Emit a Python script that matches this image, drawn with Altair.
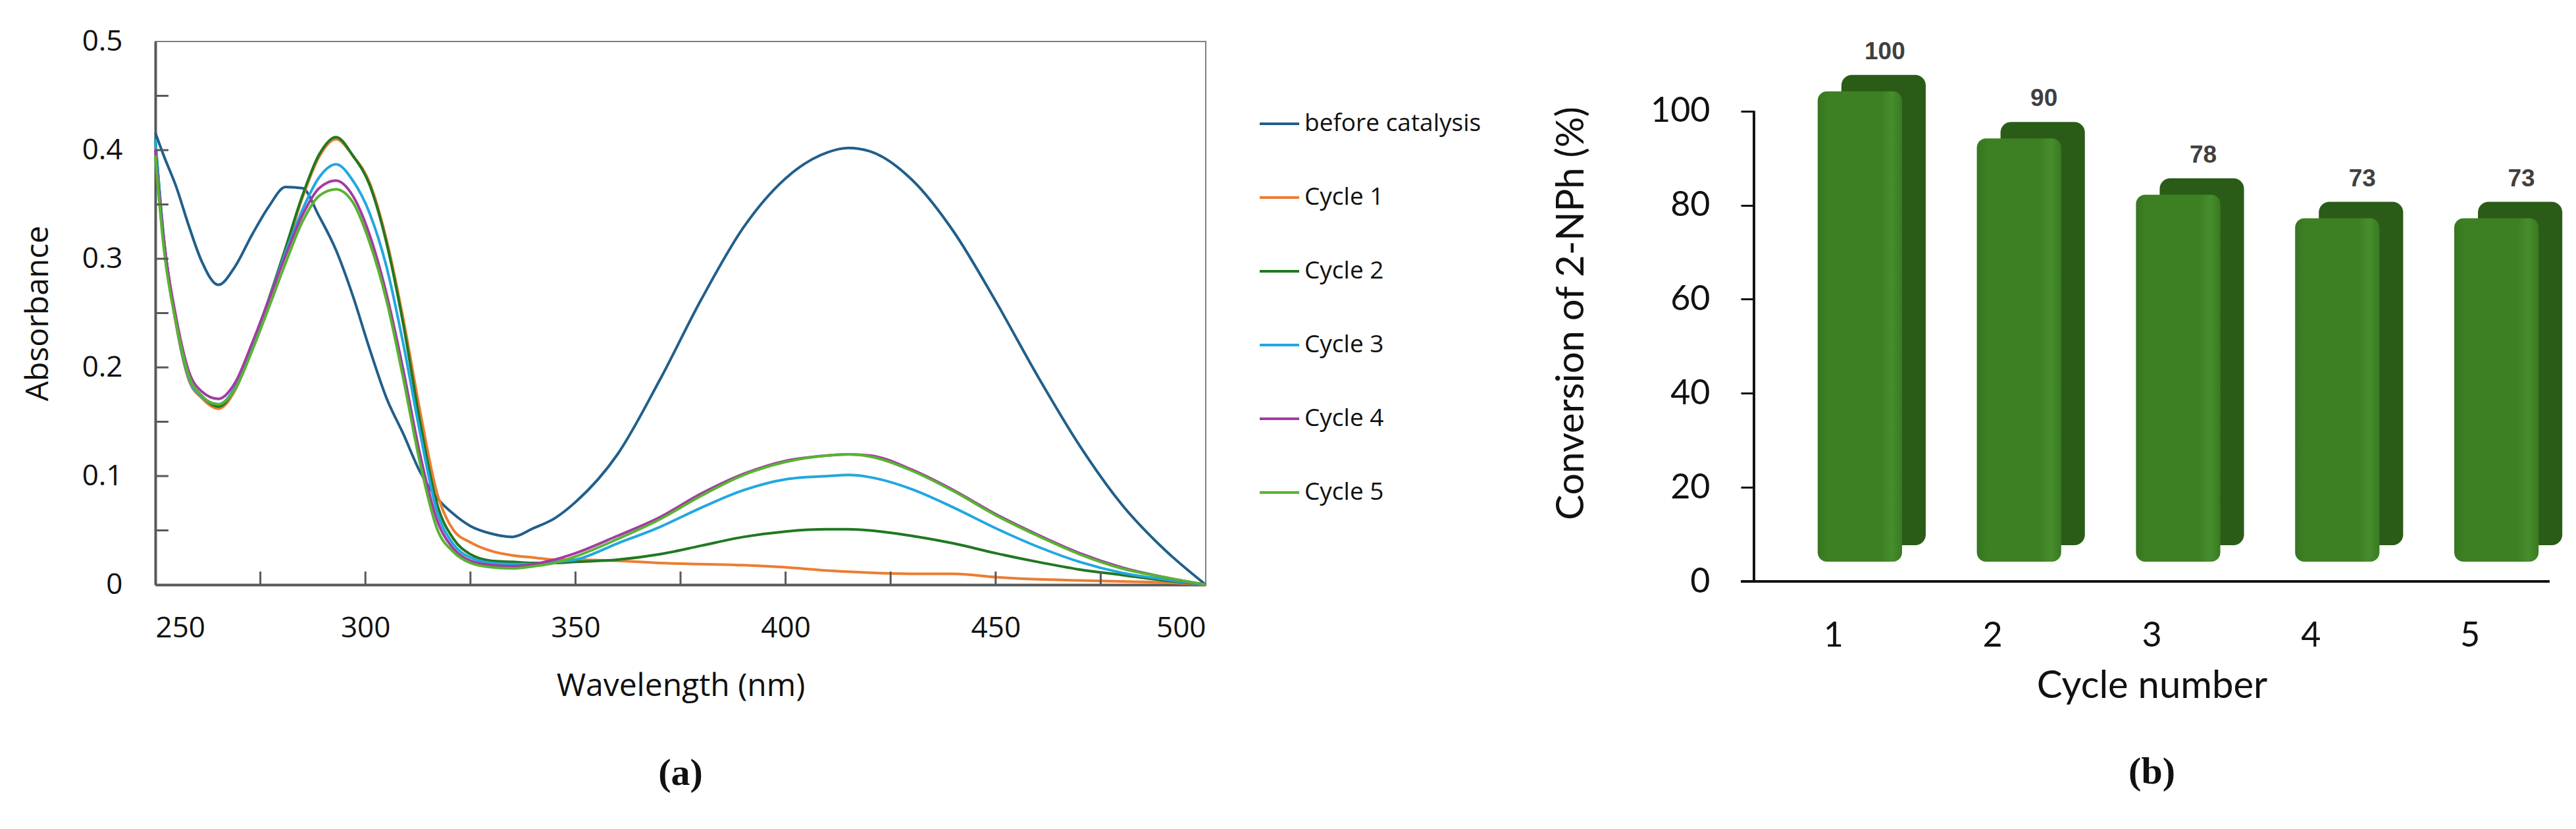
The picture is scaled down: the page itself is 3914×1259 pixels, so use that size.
import pandas as pd
import altair as alt

# ---- (a) UV-vis spectra ----
wavelength = [250, 252, 255, 258, 261, 265, 269, 273, 277, 281, 285, 289, 293, 297,
              301, 305, 309, 313, 317, 321, 325, 330, 335, 340, 345, 350, 360, 370,
              380, 390, 400, 410, 415, 420, 430, 440, 450, 460, 470, 480, 490, 500]

before_catalysis = [0.416, 0.395, 0.366, 0.330, 0.298, 0.276, 0.293, 0.322, 0.348, 0.366,
                    0.365, 0.339, 0.308, 0.266, 0.217, 0.172, 0.139, 0.104, 0.080, 0.065,
                    0.054, 0.047, 0.044, 0.052, 0.061, 0.076, 0.120, 0.188, 0.263, 0.329,
                    0.374, 0.398, 0.402, 0.399, 0.373, 0.325, 0.261, 0.192, 0.128, 0.074,
                    0.033, 0.0]
cycle_1 = [0.405, 0.315, 0.238, 0.188, 0.172, 0.162, 0.179, 0.218, 0.262, 0.308,
           0.356, 0.394, 0.410, 0.395, 0.370, 0.318, 0.245, 0.160, 0.085, 0.050,
           0.039, 0.031, 0.027, 0.025, 0.023, 0.023, 0.022, 0.020, 0.019, 0.018,
           0.016, 0.013, 0.012, 0.011, 0.010, 0.010, 0.007, 0.005, 0.004, 0.003,
           0.002, 0.0]
cycle_2 = [0.410, 0.320, 0.240, 0.190, 0.174, 0.164, 0.181, 0.220, 0.263, 0.310,
           0.358, 0.396, 0.412, 0.395, 0.368, 0.315, 0.240, 0.150, 0.075, 0.042,
           0.028, 0.022, 0.021, 0.020, 0.020, 0.021, 0.023, 0.028, 0.036, 0.044,
           0.049, 0.051, 0.051, 0.050, 0.045, 0.038, 0.029, 0.021, 0.014, 0.009,
           0.004, 0.0]
cycle_3 = [0.410, 0.318, 0.240, 0.190, 0.173, 0.166, 0.182, 0.220, 0.262, 0.306,
           0.345, 0.375, 0.387, 0.372, 0.342, 0.293, 0.222, 0.140, 0.068, 0.037,
           0.025, 0.020, 0.019, 0.019, 0.021, 0.023, 0.038, 0.053, 0.071, 0.087,
           0.097, 0.100, 0.101, 0.099, 0.088, 0.071, 0.052, 0.035, 0.021, 0.011,
           0.005, 0.0]
cycle_4 = [0.400, 0.318, 0.245, 0.196, 0.178, 0.171, 0.186, 0.222, 0.262, 0.303,
           0.340, 0.365, 0.372, 0.358, 0.322, 0.268, 0.198, 0.120, 0.060, 0.033,
           0.022, 0.018, 0.017, 0.019, 0.023, 0.029, 0.045, 0.062, 0.084, 0.102,
           0.114, 0.119, 0.120, 0.119, 0.106, 0.087, 0.065, 0.046, 0.029, 0.016,
           0.007, 0.0]
cycle_5 = [0.395, 0.310, 0.240, 0.192, 0.174, 0.166, 0.180, 0.215, 0.255, 0.296,
           0.334, 0.358, 0.364, 0.352, 0.315, 0.262, 0.190, 0.112, 0.052, 0.030,
           0.020, 0.016, 0.015, 0.017, 0.020, 0.026, 0.042, 0.060, 0.082, 0.101,
           0.113, 0.119, 0.120, 0.118, 0.105, 0.086, 0.064, 0.045, 0.028, 0.015,
           0.007, 0.0]

series_names = ["before catalysis", "Cycle 1", "Cycle 2", "Cycle 3", "Cycle 4", "Cycle 5"]
series_colors = ["#215f8a", "#ed7d31", "#217821", "#22a7e0", "#a33ba3", "#58b431"]
series_values = [before_catalysis, cycle_1, cycle_2, cycle_3, cycle_4, cycle_5]

x_ticks = [275, 300, 325, 350, 375, 400, 425, 450, 475]
y_ticks = [0.05, 0.1, 0.15, 0.2, 0.25, 0.3, 0.35, 0.4, 0.45]

# ---- (b) conversion per cycle ----
cycles = ["1", "2", "3", "4", "5"]
conversion = [100, 90, 78, 73, 73]

spectra = pd.DataFrame(
    [
        {"wl": w, "abs": v, "series": name, "order": i}
        for i, (name, vals) in enumerate(zip(series_names, series_values))
        for w, v in zip(wavelength, vals)
    ]
)
bars = pd.DataFrame({"cycle": cycles, "conv": conversion})

W_A, H = 1596, 825
W_B = 1209
LEFT_FONT = "Open Sans"
RIGHT_FONT = "Lato"

x_a = alt.X(
    "wl:Q",
    scale=alt.Scale(domain=[250, 500], nice=False),
    axis=alt.Axis(
        values=[250, 300, 350, 400, 450, 500], ticks=False, grid=False,
        domainColor="#595959", domainWidth=4, labelFontSize=44, labelColor="#111",
        labelFont=LEFT_FONT, labelPadding=44, title="Wavelength (nm)",
        titleFont=LEFT_FONT, titleFontSize=48, titleFontWeight="normal",
        titleColor="#111", titlePadding=42,
    ),
)
y_a = alt.Y(
    "abs:Q",
    scale=alt.Scale(domain=[0, 0.5], nice=False),
    axis=alt.Axis(
        values=[0, 0.1, 0.2, 0.3, 0.4, 0.5], format="~g", ticks=False, grid=False,
        domainColor="#595959", domainWidth=4, labelFontSize=44, labelColor="#111",
        labelFont=LEFT_FONT, labelPadding=50, title="Absorbance",
        titleFont=LEFT_FONT, titleFontSize=48, titleFontWeight="normal",
        titleColor="#111", titlePadding=42,
    ),
)

lines = (
    alt.Chart(spectra)
    .mark_line(strokeWidth=4, interpolate="monotone")
    .encode(
        x=x_a,
        y=y_a,
        color=alt.Color(
            "series:N",
            scale=alt.Scale(domain=series_names, range=series_colors),
            legend=alt.Legend(
                title=None, orient="none", legendX=W_A + 80, legendY=93,
                symbolType="stroke", symbolSize=3600, symbolStrokeWidth=4,
                labelFont=LEFT_FONT, labelFontSize=37, labelColor="#111",
                labelOffset=6, labelLimit=600, rowPadding=62,
            ),
        ),
        detail="series:N",
        order="order:Q",
    )
)

tick_x = (
    alt.Chart(pd.DataFrame({"t": x_ticks}))
    .mark_rule(color="#595959", strokeWidth=3)
    .encode(x="t:Q", y=alt.value(H), y2=alt.value(H - 20))
)
tick_y = (
    alt.Chart(pd.DataFrame({"t": y_ticks}))
    .mark_rule(color="#595959", strokeWidth=3)
    .encode(y="t:Q", x=alt.value(0), x2=alt.value(20))
)

chart_a = (
    alt.layer(lines, tick_x, tick_y)
    .properties(
        width=W_A, height=H,
        title=alt.TitleParams(
            "(a)", orient="bottom", font="Liberation Serif", fontSize=58,
            fontWeight="bold", color="#111", offset=80, anchor="middle",
        ),
        view=alt.ViewBackground(stroke="#7f7f7f", strokeWidth=2),
    )
)

# right panel: domain stretched so that 0..100 sits where the picture has it
x_b = alt.X(
    "cycle:O",
    sort=cycles,
    scale=alt.Scale(paddingInner=0.47, paddingOuter=0.235),
    axis=alt.Axis(
        labelAngle=0, ticks=False, domain=False, labelFont=RIGHT_FONT,
        labelFontSize=52, labelColor="#111", labelPadding=52,
        title="Cycle number", titleFont=RIGHT_FONT, titleFontSize=58,
        titleFontWeight="normal", titleColor="#111", titlePadding=22,
    ),
)
y_b = alt.Y(
    "conv:Q",
    scale=alt.Scale(domain=[-0.7, 114.8], nice=False, zero=False),
    axis=alt.Axis(
        values=[0, 20, 40, 60, 80, 100], domain=False, grid=False,
        tickSize=20, tickWidth=3, tickColor="#111", labelFont=RIGHT_FONT,
        labelFontSize=52, labelColor="#111", labelPadding=47,
        title="Conversion of 2-NPh (%)", titleFont=RIGHT_FONT, titleFontSize=58,
        titleFontWeight="normal", titleColor="#111", titlePadding=90,
    ),
)

front_fill = alt.Gradient(
    gradient="linear", x1=0, x2=1, y1=0, y2=0,
    stops=[
        alt.GradientStop(offset=0, color="#367520"),
        alt.GradientStop(offset=0.12, color="#3d8024"),
        alt.GradientStop(offset=0.75, color="#3d8024"),
        alt.GradientStop(offset=0.88, color="#468d2c"),
        alt.GradientStop(offset=1, color="#3a7a22"),
    ],
)

base_b = alt.Chart(bars).encode(x=x_b, y=y_b, y2=alt.datum(0))
back = base_b.mark_bar(
    color="#2a5c17", cornerRadius=16, xOffset=76, yOffset=-55, y2Offset=-55, clip=False
)
front = base_b.mark_bar(
    color=front_fill, cornerRadius=14, xOffset=40, yOffset=-30, y2Offset=-30, clip=False
)
labels = (
    alt.Chart(bars)
    .mark_text(
        font="Liberation Sans", fontSize=37, fontWeight="bold", color="#404040",
        dx=78, dy=-90,
    )
    .encode(x=x_b, y=y_b, text="conv:Q")
)

y_line = (
    alt.Chart(bars)
    .mark_rule(color="#111", strokeWidth=3)
    .encode(x=alt.value(0), y=alt.datum(0), y2=alt.datum(100))
)
x_line = (
    alt.Chart(bars)
    .mark_rule(color="#111", strokeWidth=3)
    .encode(x=alt.value(-20), x2=alt.value(W_B), y=alt.datum(0))
)

chart_b = (
    alt.layer(back, front, labels, y_line, x_line)
    .properties(
        width=W_B, height=H,
        title=alt.TitleParams(
            "(b)", orient="bottom", font="Liberation Serif", fontSize=58,
            fontWeight="bold", color="#111", offset=73, anchor="middle",
        ),
    )
)

chart = (
    alt.hconcat(chart_a, chart_b, spacing=518)
    .properties(padding={"left": 25, "top": 32, "right": 0, "bottom": 0})
    .configure_view(stroke="transparent")
)

chart.save("out.html", embed_options={"renderer": "svg", "actions": False})
